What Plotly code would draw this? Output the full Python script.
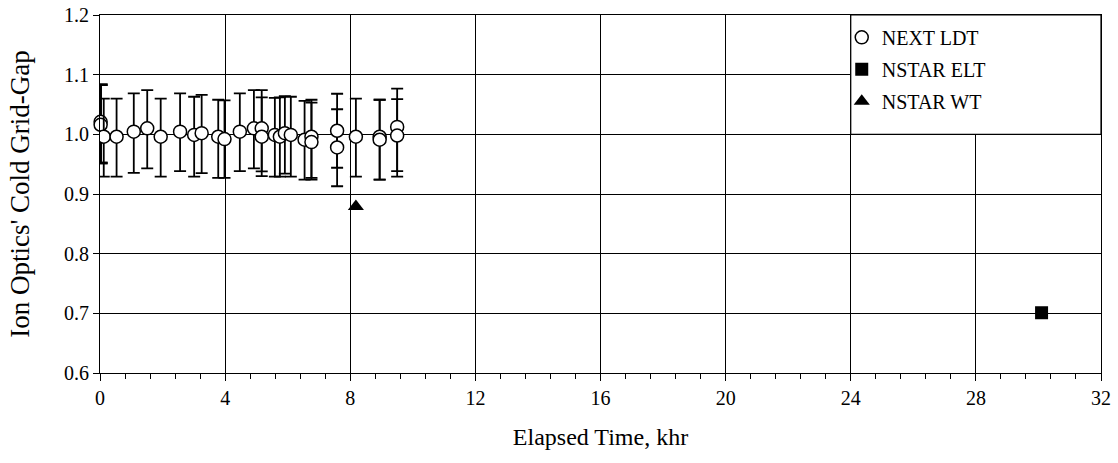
import plotly.graph_objects as go

# NEXT LDT data (khr, normalized cold grid gap) with error bar extents
ldt_x = [0.12, 0.53, 1.08, 1.51, 1.94, 2.56, 3.01, 3.25, 3.78, 3.98, 4.47, 4.92,
         5.17, 5.17, 5.59, 5.75, 5.91, 6.10, 6.54, 6.76, 6.76, 7.58, 7.58, 8.18,
         8.94, 8.94, 9.50, 9.50]
ldt_y = [0.996, 0.996, 1.0045, 1.010, 0.996, 1.0045, 0.999, 1.002, 0.996, 0.992, 1.0045, 1.010,
         1.010, 0.996, 0.999, 0.996, 1.002, 0.999, 0.991, 0.996, 0.987, 1.006, 0.978, 0.996,
         0.996, 0.991, 1.0125, 0.998]
ldt_err_plus = [0.064, 0.064, 0.064, 0.064, 0.064, 0.064, 0.064, 0.064, 0.062, 0.065, 0.064, 0.064,
                0.064, 0.066, 0.062, 0.066, 0.062, 0.064, 0.065, 0.062, 0.066, 0.062, 0.064, 0.064,
                0.062, 0.067, 0.064, 0.061]
ldt_err_minus = [0.067, 0.067, 0.069, 0.067, 0.067, 0.066, 0.070, 0.067, 0.069, 0.065, 0.066, 0.067,
                 0.072, 0.066, 0.070, 0.067, 0.068, 0.070, 0.067, 0.069, 0.063, 0.062, 0.065, 0.067,
                 0.072, 0.067, 0.074, 0.069]

# first NEXT LDT measurements (start of test), drawn with heavier error bars
ldt0_x = [0.02, 0.02]
ldt0_y = [1.021, 1.016]
ldt0_err_plus = [0.062, 0.067]
ldt0_err_minus = [0.069, 0.064]

# NSTAR results
elt_x = [30.1]
elt_y = [0.701]
wt_x = [8.18]
wt_y = [0.879]

x_ticks = [0, 4, 8, 12, 16, 20, 24, 28, 32]
y_ticks = [0.6, 0.7, 0.8, 0.9, 1.0, 1.1, 1.2]

FONT = "Liberation Serif, Times New Roman, serif"

fig = go.Figure()

fig.add_trace(go.Scatter(
    x=ldt0_x, y=ldt0_y, mode="markers", showlegend=False,
    marker=dict(symbol="circle", size=13, color="white", line=dict(color="black", width=1.5)),
    error_y=dict(type="data", symmetric=False, array=ldt0_err_plus, arrayminus=ldt0_err_minus,
                 color="black", thickness=2.5, width=7),
    cliponaxis=False,
))
fig.add_trace(go.Scatter(
    x=ldt_x, y=ldt_y, mode="markers", name="NEXT LDT", legendgroup="a",
    marker=dict(symbol="circle", size=13, color="white", line=dict(color="black", width=1.5)),
    error_y=dict(type="data", symmetric=False, array=ldt_err_plus, arrayminus=ldt_err_minus,
                 color="black", thickness=1.8, width=6),
))
fig.add_trace(go.Scatter(
    x=elt_x, y=elt_y, mode="markers", name="NSTAR ELT", legendgroup="b",
    marker=dict(symbol="square", size=13, color="black"),
))
fig.add_trace(go.Scatter(
    x=wt_x, y=wt_y, mode="markers", name="NSTAR WT", legendgroup="c",
    marker=dict(symbol="triangle-up", size=14, color="black"),
))

# legend frame (left edge on the 24 khr gridline, bottom on the 1.0 gridline)
fig.add_shape(type="rect", xref="paper", yref="paper", x0=0.75, x1=1.0, y0=0.6667, y1=1.0,
              fillcolor="white", line=dict(color="black", width=1.2), layer="above")

fig.update_layout(
    width=1118, height=463,
    margin=dict(l=100, r=17, t=15, b=90),
    paper_bgcolor="white", plot_bgcolor="white",
    font=dict(family=FONT, color="black", size=20),
    showlegend=True,
    legend=dict(x=0.741, y=0.992, xanchor="left", yanchor="top",
                bgcolor="rgba(0,0,0,0)", borderwidth=0,
                font=dict(family=FONT, size=20, color="black"),
                traceorder="grouped", tracegroupgap=3, itemwidth=30),
    xaxis=dict(range=[0, 32], tickvals=x_ticks, ticktext=[str(v) for v in x_ticks],
               automargin=False,
               showgrid=True, gridcolor="black", gridwidth=1,
               showline=True, linecolor="black", linewidth=1.2, mirror=True,
               ticks="outside", ticklen=7, tickcolor="black", tickwidth=1.2,
               minor=dict(dtick=0.8, ticks="outside", ticklen=5, tickcolor="black", showgrid=False),
               zeroline=False,
               title=dict(text="Elapsed Time, khr", font=dict(size=24), standoff=20),
               tickfont=dict(size=20)),
    yaxis=dict(range=[0.6, 1.2], tickvals=y_ticks, ticktext=[f"{v:.1f}" for v in y_ticks],
               automargin=False, ticklabeloverflow="allow",
               showgrid=True, gridcolor="black", gridwidth=1,
               showline=True, linecolor="black", linewidth=1.2, mirror=True,
               ticks="outside", ticklen=6, tickcolor="black", tickwidth=1.2,
               zeroline=False,
               title=dict(text="Ion Optics' Cold Grid-Gap", font=dict(size=27), standoff=26),
               tickfont=dict(size=20)),
)

fig.write_html("out.html", config={"displayModeBar": False},
               post_script="document.body.style.margin='0';")
